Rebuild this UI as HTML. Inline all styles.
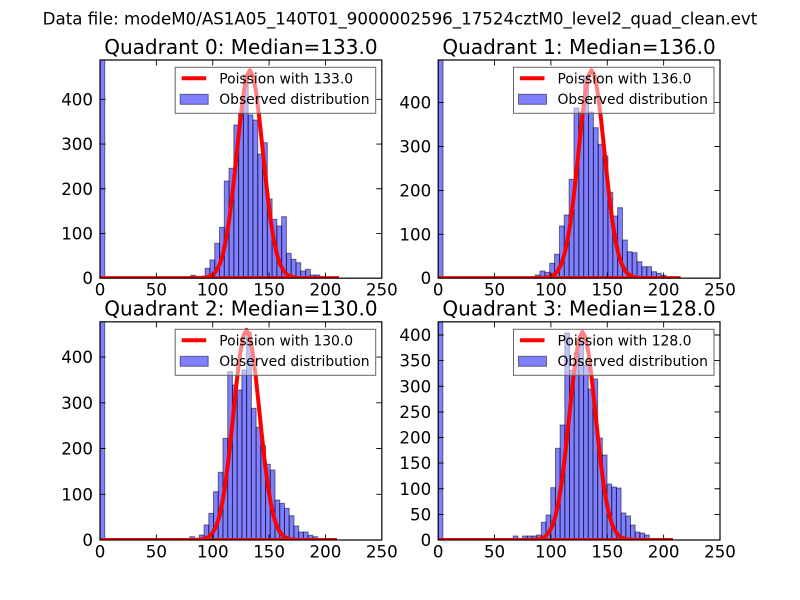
<!DOCTYPE html>
<html><head><meta charset="utf-8"><style>
html,body{margin:0;padding:0;background:#fff;}
svg{display:block;}
text{font-family:"DejaVu Sans","Liberation Sans",sans-serif;fill:#000;}
.tk{font-size:16.67px;}
.lg{font-size:13.9px;}
.ttl{font-size:20px;}
</style></head><body>
<svg width="800" height="600" viewBox="0 0 800 600" xmlns="http://www.w3.org/2000/svg">
<defs>
<clipPath id="c0"><rect x="100" y="60" width="281.82" height="218.18"/></clipPath>
<clipPath id="c1"><rect x="438.18" y="60" width="281.82" height="218.18"/></clipPath>
<clipPath id="c2"><rect x="100" y="321.82" width="281.82" height="218.18"/></clipPath>
<clipPath id="c3"><rect x="438.18" y="321.82" width="281.82" height="218.18"/></clipPath>
<path id="pc" d="M-60,0 L-50,-0.1 L-43,-0.9 L-38,-2.9 L-34,-6.8 L-30,-14.5 L-27,-24.1 L-24,-37.9 L-21,-56.4 L-18,-79.7 L-15,-106.9 L-12,-135.8 L-9,-163.7 L-6,-187 L-3,-202.5 L0,-208 L3,-202.5 L6,-187 L9,-163.7 L12,-135.8 L15,-106.9 L18,-79.7 L21,-56.4 L24,-37.9 L27,-24.1 L30,-14.5 L34,-6.8 L38,-2.9 L43,-0.9 L50,-0.1 L60,0"/>
</defs>
<rect width="800" height="600" fill="#fff"/>

<text class="tk" x="400" y="24.5" text-anchor="middle">Data file: modeM0/AS1A05_140T01_9000002596_17524cztM0_level2_quad_clean.evt</text>

<!-- ============ Panel 0 ============ -->
<g clip-path="url(#c0)">
<g fill="#0000ff" fill-opacity="0.5" stroke="#000" stroke-opacity="0.5" stroke-width="1">
<rect x="100" y="50" width="4.78" height="228.18"/>
<rect x="166.92" y="277" width="4.78" height="1.18"/>
<rect x="176.48" y="277" width="4.78" height="1.18"/>
<rect x="190.82" y="275.3" width="4.78" height="2.88"/>
<rect x="205.16" y="268.3" width="4.78" height="9.88"/>
<rect x="209.94" y="260" width="4.78" height="18.18"/>
<rect x="214.72" y="243.3" width="4.78" height="34.88"/>
<rect x="219.5" y="227.3" width="4.78" height="50.88"/>
<rect x="224.28" y="181" width="4.78" height="97.18"/>
<rect x="229.06" y="168.3" width="4.78" height="109.88"/>
<rect x="233.84" y="125" width="4.78" height="153.18"/>
<rect x="238.62" y="113" width="4.78" height="165.18"/>
<rect x="243.4" y="75" width="4.78" height="203.18"/>
<rect x="248.18" y="115" width="4.78" height="163.18"/>
<rect x="252.96" y="120" width="4.78" height="158.18"/>
<rect x="257.74" y="154" width="4.78" height="124.18"/>
<rect x="262.52" y="142.7" width="4.78" height="135.48"/>
<rect x="267.3" y="199" width="4.78" height="79.18"/>
<rect x="272.08" y="219.3" width="4.78" height="58.88"/>
<rect x="276.86" y="226" width="4.78" height="52.18"/>
<rect x="281.64" y="216.7" width="4.78" height="61.48"/>
<rect x="286.42" y="253.3" width="4.78" height="24.88"/>
<rect x="291.2" y="259.3" width="4.78" height="18.88"/>
<rect x="295.98" y="262.7" width="4.78" height="15.48"/>
<rect x="300.76" y="271" width="4.78" height="7.18"/>
<rect x="305.54" y="269.3" width="4.78" height="8.88"/>
<rect x="310.32" y="275" width="4.78" height="3.18"/>
<rect x="315.1" y="275" width="4.78" height="3.18"/>
<rect x="319.88" y="276.5" width="4.78" height="1.68"/>
</g>
<g stroke="#ff0000" stroke-width="4" fill="none" stroke-linejoin="round">
<line x1="100" y1="278.18" x2="339" y2="278.18"/>
<use href="#pc" transform="translate(249.9,278.18)"/>
</g>
</g>

<!-- ============ Panel 1 ============ -->
<g clip-path="url(#c1)">
<g fill="#0000ff" fill-opacity="0.5" stroke="#000" stroke-opacity="0.5" stroke-width="1">
<rect x="438.18" y="50" width="4.85" height="228.18"/>
<rect x="511" y="277" width="4.85" height="1.18"/>
<rect x="520.7" y="277" width="4.85" height="1.18"/>
<rect x="535.18" y="275" width="4.85" height="3.18"/>
<rect x="540.03" y="271" width="4.85" height="7.18"/>
<rect x="544.88" y="272.3" width="4.85" height="5.88"/>
<rect x="549.73" y="263.3" width="4.85" height="14.88"/>
<rect x="554.58" y="254.3" width="4.85" height="23.88"/>
<rect x="559.43" y="226" width="4.85" height="52.18"/>
<rect x="564.28" y="215" width="4.85" height="63.18"/>
<rect x="569.13" y="179.3" width="4.85" height="98.88"/>
<rect x="573.98" y="108" width="4.85" height="170.18"/>
<rect x="578.83" y="112" width="4.85" height="166.18"/>
<rect x="583.68" y="76" width="4.85" height="202.18"/>
<rect x="588.53" y="112" width="4.85" height="166.18"/>
<rect x="593.38" y="127.7" width="4.85" height="150.48"/>
<rect x="598.23" y="144.3" width="4.85" height="133.88"/>
<rect x="603.08" y="156" width="4.85" height="122.18"/>
<rect x="607.93" y="192.3" width="4.85" height="85.88"/>
<rect x="612.78" y="216" width="4.85" height="62.18"/>
<rect x="617.63" y="207.7" width="4.85" height="70.48"/>
<rect x="622.48" y="240" width="4.85" height="38.18"/>
<rect x="627.33" y="251.7" width="4.85" height="26.48"/>
<rect x="632.18" y="252.7" width="4.85" height="25.48"/>
<rect x="637.03" y="261.7" width="4.85" height="16.48"/>
<rect x="641.88" y="266.7" width="4.85" height="11.48"/>
<rect x="646.73" y="266.7" width="4.85" height="11.48"/>
<rect x="651.58" y="271.7" width="4.85" height="6.48"/>
<rect x="656.43" y="273.3" width="4.85" height="4.88"/>
<rect x="661.28" y="275.3" width="4.85" height="2.88"/>
</g>
<g stroke="#ff0000" stroke-width="4" fill="none" stroke-linejoin="round">
<line x1="438.18" y1="278.18" x2="680.5" y2="278.18"/>
<use href="#pc" transform="translate(591.5,278.18)"/>
</g>
</g>

<!-- ============ Panel 2 ============ -->
<g clip-path="url(#c2)">
<g fill="#0000ff" fill-opacity="0.5" stroke="#000" stroke-opacity="0.5" stroke-width="1">
<rect x="100" y="310" width="4.73" height="230"/>
<rect x="166.2" y="538.8" width="4.73" height="1.2"/>
<rect x="175.7" y="538.8" width="4.73" height="1.2"/>
<rect x="189.87" y="536.7" width="4.73" height="3.3"/>
<rect x="199.33" y="535" width="4.73" height="5"/>
<rect x="204.06" y="525" width="4.73" height="15"/>
<rect x="208.79" y="513.3" width="4.73" height="26.7"/>
<rect x="213.52" y="491.7" width="4.73" height="48.3"/>
<rect x="218.25" y="472.3" width="4.73" height="67.7"/>
<rect x="222.98" y="438.3" width="4.73" height="101.7"/>
<rect x="227.71" y="371.7" width="4.73" height="168.3"/>
<rect x="232.44" y="385" width="4.73" height="155"/>
<rect x="237.17" y="390" width="4.73" height="150"/>
<rect x="241.9" y="370" width="4.73" height="170"/>
<rect x="246.63" y="332" width="4.73" height="208"/>
<rect x="251.36" y="408.3" width="4.73" height="131.7"/>
<rect x="256.09" y="427.3" width="4.73" height="112.7"/>
<rect x="260.82" y="445.7" width="4.73" height="94.3"/>
<rect x="265.55" y="464.3" width="4.73" height="75.7"/>
<rect x="270.28" y="470" width="4.73" height="70"/>
<rect x="275.01" y="500" width="4.73" height="40"/>
<rect x="279.74" y="503.3" width="4.73" height="36.7"/>
<rect x="284.47" y="508.3" width="4.73" height="31.7"/>
<rect x="289.2" y="515.7" width="4.73" height="24.3"/>
<rect x="293.93" y="526" width="4.73" height="14"/>
<rect x="298.66" y="532" width="4.73" height="8"/>
<rect x="303.39" y="532" width="4.73" height="8"/>
<rect x="308.12" y="535.3" width="4.73" height="4.7"/>
<rect x="312.85" y="536.7" width="4.73" height="3.3"/>
</g>
<g stroke="#ff0000" stroke-width="4" fill="none" stroke-linejoin="round">
<line x1="100" y1="540" x2="337" y2="540"/>
<use href="#pc" transform="translate(246.5,540) scale(1,1.01)"/>
</g>
</g>

<!-- ============ Panel 3 ============ -->
<g clip-path="url(#c3)">
<g fill="#0000ff" fill-opacity="0.5" stroke="#000" stroke-opacity="0.5" stroke-width="1">
<rect x="438.18" y="310" width="4.69" height="230"/>
<rect x="513.22" y="536" width="4.69" height="4"/>
<rect x="522.6" y="536" width="4.69" height="4"/>
<rect x="527.29" y="536" width="4.69" height="4"/>
<rect x="531.98" y="536" width="4.69" height="4"/>
<rect x="536.67" y="535" width="4.69" height="5"/>
<rect x="541.36" y="522.3" width="4.69" height="17.7"/>
<rect x="546.05" y="515" width="4.69" height="25"/>
<rect x="550.74" y="487.7" width="4.69" height="52.3"/>
<rect x="555.43" y="448.3" width="4.69" height="91.7"/>
<rect x="560.12" y="425" width="4.69" height="115"/>
<rect x="564.81" y="333" width="4.69" height="207"/>
<rect x="569.5" y="370" width="4.69" height="170"/>
<rect x="574.19" y="353" width="4.69" height="187"/>
<rect x="578.88" y="338" width="4.69" height="202"/>
<rect x="583.57" y="365" width="4.69" height="175"/>
<rect x="588.26" y="389" width="4.69" height="151"/>
<rect x="592.95" y="379" width="4.69" height="161"/>
<rect x="597.64" y="438" width="4.69" height="102"/>
<rect x="602.33" y="455" width="4.69" height="85"/>
<rect x="607.02" y="484" width="4.69" height="56"/>
<rect x="611.71" y="487" width="4.69" height="53"/>
<rect x="616.4" y="488" width="4.69" height="52"/>
<rect x="621.09" y="513" width="4.69" height="27"/>
<rect x="625.78" y="516" width="4.69" height="24"/>
<rect x="630.47" y="525" width="4.69" height="15"/>
<rect x="635.16" y="532" width="4.69" height="8"/>
<rect x="639.85" y="533" width="4.69" height="7"/>
<rect x="644.54" y="535" width="4.69" height="5"/>
</g>
<g stroke="#ff0000" stroke-width="4" fill="none" stroke-linejoin="round">
<line x1="438.18" y1="540" x2="673" y2="540"/>
<use href="#pc" transform="translate(582.5,540)"/>
</g>
</g>

<!-- ============ Spines & ticks ============ -->
<g fill="none" stroke="#000" stroke-width="1.2">
<rect x="100" y="60" width="281.82" height="218.18"/>
<rect x="438.18" y="60" width="281.82" height="218.18"/>
<rect x="100" y="321.82" width="281.82" height="218.18"/>
<rect x="438.18" y="321.82" width="281.82" height="218.18"/>
</g>
<g stroke="#000" stroke-width="0.9">
<!-- x ticks top row -->
<path d="M156.36,278.18v-5.5M212.73,278.18v-5.5M269.09,278.18v-5.5M325.45,278.18v-5.5
M156.36,60v5.5M212.73,60v5.5M269.09,60v5.5M325.45,60v5.5
M494.55,278.18v-5.5M550.91,278.18v-5.5M607.27,278.18v-5.5M663.64,278.18v-5.5
M494.55,60v5.5M550.91,60v5.5M607.27,60v5.5M663.64,60v5.5"/>
<!-- x ticks bottom row -->
<path d="M156.36,540v-5.5M212.73,540v-5.5M269.09,540v-5.5M325.45,540v-5.5
M156.36,321.82v5.5M212.73,321.82v5.5M269.09,321.82v5.5M325.45,321.82v5.5
M494.55,540v-5.5M550.91,540v-5.5M607.27,540v-5.5M663.64,540v-5.5
M494.55,321.82v5.5M550.91,321.82v5.5M607.27,321.82v5.5M663.64,321.82v5.5"/>
<!-- y ticks panel 0 -->
<path d="M100,233.46h5.5M100,188.74h5.5M100,144.02h5.5M100,99.3h5.5
M381.82,233.46h-5.5M381.82,188.74h-5.5M381.82,144.02h-5.5M381.82,99.3h-5.5"/>
<!-- y ticks panel 1 -->
<path d="M438.18,234.3h5.5M438.18,190.4h5.5M438.18,146.5h5.5M438.18,102.6h5.5
M720,234.3h-5.5M720,190.4h-5.5M720,146.5h-5.5M720,102.6h-5.5"/>
<!-- y ticks panel 2 -->
<path d="M100,494.3h5.5M100,448.5h5.5M100,402.8h5.5M100,357.1h5.5
M381.82,494.3h-5.5M381.82,448.5h-5.5M381.82,402.8h-5.5M381.82,357.1h-5.5"/>
<!-- y ticks panel 3 -->
<path d="M438.18,514.4h5.5M438.18,488.75h5.5M438.18,463.1h5.5M438.18,437.5h5.5M438.18,411.9h5.5M438.18,386.25h5.5M438.18,360.6h5.5M438.18,335h5.5
M720,514.4h-5.5M720,488.75h-5.5M720,463.1h-5.5M720,437.5h-5.5M720,411.9h-5.5M720,386.25h-5.5M720,360.6h-5.5M720,335h-5.5"/>
</g>

<!-- ============ Tick labels ============ -->
<g class="tk" text-anchor="middle">
<text x="100" y="295.5">0</text><text x="156.36" y="295.5">50</text><text x="212.73" y="295.5">100</text><text x="269.09" y="295.5">150</text><text x="325.45" y="295.5">200</text><text x="381.82" y="295.5">250</text>
<text x="438.18" y="295.5">0</text><text x="494.55" y="295.5">50</text><text x="550.91" y="295.5">100</text><text x="607.27" y="295.5">150</text><text x="663.64" y="295.5">200</text><text x="720" y="295.5">250</text>
<text x="100" y="557.3">0</text><text x="156.36" y="557.3">50</text><text x="212.73" y="557.3">100</text><text x="269.09" y="557.3">150</text><text x="325.45" y="557.3">200</text><text x="381.82" y="557.3">250</text>
<text x="438.18" y="557.3">0</text><text x="494.55" y="557.3">50</text><text x="550.91" y="557.3">100</text><text x="607.27" y="557.3">150</text><text x="663.64" y="557.3">200</text><text x="720" y="557.3">250</text>
</g>
<g class="tk" text-anchor="end">
<text x="93" y="284.2">0</text><text x="93" y="239.5">100</text><text x="93" y="194.8">200</text><text x="93" y="150">300</text><text x="93" y="105.3">400</text>
<text x="431.2" y="284.2">0</text><text x="431.2" y="240.3">100</text><text x="431.2" y="196.4">200</text><text x="431.2" y="152.5">300</text><text x="431.2" y="108.6">400</text>
<text x="93" y="546">0</text><text x="93" y="500.3">100</text><text x="93" y="454.5">200</text><text x="93" y="408.8">300</text><text x="93" y="363.1">400</text>
<text x="431.2" y="546">0</text><text x="431.2" y="520.4">50</text><text x="431.2" y="494.75">100</text><text x="431.2" y="469.1">150</text><text x="431.2" y="443.5">200</text><text x="431.2" y="417.9">250</text><text x="431.2" y="392.25">300</text><text x="431.2" y="366.6">350</text><text x="431.2" y="341">400</text>
</g>

<!-- ============ Titles ============ -->
<g class="ttl" text-anchor="middle">
<text x="240.91" y="54">Quadrant 0: Median=133.0</text>
<text x="579.09" y="54">Quadrant 1: Median=136.0</text>
<text x="240.91" y="315.5">Quadrant 2: Median=130.0</text>
<text x="579.09" y="315.5">Quadrant 3: Median=128.0</text>
</g>

<!-- ============ Legends ============ -->
<g>
<rect x="175.2" y="67.3" width="200.5" height="46" fill="#fff" fill-opacity="0.5" stroke="#666" stroke-width="1"/>
<line x1="181.7" y1="78.3" x2="206.2" y2="78.3" stroke="#ff0000" stroke-width="4"/>
<text class="lg" x="219.2" y="83.6">Poission with 133.0</text>
<rect x="180.2" y="94.3" width="28" height="10" fill="#8080ff" stroke="#000" stroke-opacity="0.5" stroke-width="1"/>
<text class="lg" x="219.2" y="104">Observed distribution</text>
</g>
<g>
<rect x="513.5" y="67.3" width="200.5" height="46" fill="#fff" fill-opacity="0.5" stroke="#666" stroke-width="1"/>
<line x1="520" y1="78.3" x2="544.5" y2="78.3" stroke="#ff0000" stroke-width="4"/>
<text class="lg" x="557.5" y="83.6">Poission with 136.0</text>
<rect x="518.5" y="94.3" width="28" height="10" fill="#8080ff" stroke="#000" stroke-opacity="0.5" stroke-width="1"/>
<text class="lg" x="557.5" y="104">Observed distribution</text>
</g>
<g>
<rect x="175.2" y="329.3" width="200.5" height="46" fill="#fff" fill-opacity="0.5" stroke="#666" stroke-width="1"/>
<line x1="181.7" y1="340.3" x2="206.2" y2="340.3" stroke="#ff0000" stroke-width="4"/>
<text class="lg" x="219.2" y="345.6">Poission with 130.0</text>
<rect x="180.2" y="356.3" width="28" height="10" fill="#8080ff" stroke="#000" stroke-opacity="0.5" stroke-width="1"/>
<text class="lg" x="219.2" y="366">Observed distribution</text>
</g>
<g>
<rect x="513.5" y="329.3" width="200.5" height="46" fill="#fff" fill-opacity="0.5" stroke="#666" stroke-width="1"/>
<line x1="520" y1="340.3" x2="544.5" y2="340.3" stroke="#ff0000" stroke-width="4"/>
<text class="lg" x="557.5" y="345.6">Poission with 128.0</text>
<rect x="518.5" y="356.3" width="28" height="10" fill="#8080ff" stroke="#000" stroke-opacity="0.5" stroke-width="1"/>
<text class="lg" x="557.5" y="366">Observed distribution</text>
</g>
</svg>
</body></html>
